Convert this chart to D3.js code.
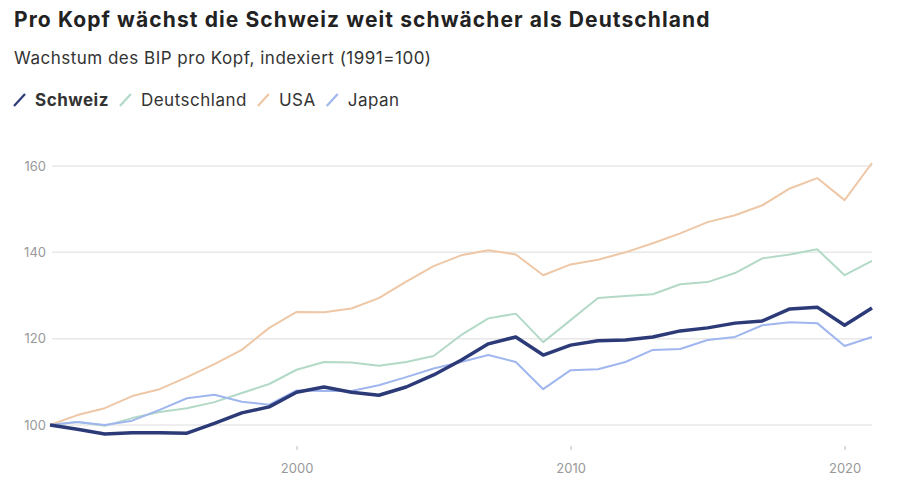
<!DOCTYPE html>
<html>
<head>
<meta charset="utf-8">
<script src="https://cdn.jsdelivr.net/npm/d3@7"></script>
<style>
  body { margin: 0; background: #fff; }
  svg { font-family: Inter, "Noto Sans", sans-serif; }
</style>
</head>
<body>
<div id="chart"></div>
<script>
const years = d3.range(1991, 2022);
const schweiz = [100, 99, 97.9, 98.2, 98.2, 98.1, 100.4, 102.8, 104.2, 107.6, 108.8, 107.6, 106.9, 108.8, 111.6, 115, 118.8, 120.4, 116.2, 118.5, 119.5, 119.7, 120.4, 121.8, 122.5, 123.6, 124.1, 126.9, 127.3, 123.1, 127.1];
const deutschland = [100, 100.7, 99.8, 101.6, 103, 103.9, 105.3, 107.4, 109.5, 112.8, 114.6, 114.5, 113.7, 114.6, 116, 120.8, 124.7, 125.8, 119.2, 124.3, 129.4, 129.9, 130.3, 132.6, 133.1, 135.2, 138.6, 139.5, 140.7, 134.7, 138];
const usa = [100, 102.3, 103.9, 106.7, 108.3, 111.1, 114.1, 117.4, 122.5, 126.2, 126.1, 127, 129.4, 133.2, 136.8, 139.3, 140.5, 139.5, 134.7, 137.2, 138.3, 140, 142.1, 144.4, 147, 148.6, 150.9, 154.8, 157.2, 152.1, 160.7];
const japan = [100, 100.7, 100, 101, 103.5, 106.2, 107, 105.4, 104.7, 108, 107.9, 107.9, 109.2, 111.1, 113.1, 114.6, 116.2, 114.6, 108.3, 112.7, 112.9, 114.6, 117.4, 117.6, 119.7, 120.4, 123.1, 123.8, 123.6, 118.3, 120.4];
const yTicks = [100, 120, 140, 160];
const xTicks = [2000, 2010, 2020];

const series = [
  { name: 'Deutschland', values: deutschland, color: '#b3d9c7', width: 2 },
  { name: 'USA', values: usa, color: '#eec7a6', width: 2 },
  { name: 'Japan', values: japan, color: '#a0b6ef', width: 2 },
  { name: 'Schweiz', values: schweiz, color: '#2c3b78', width: 3.5 }
];
const legendOrder = ['Schweiz', 'Deutschland', 'USA', 'Japan'];

const width = 900, height = 494;
const svg = d3.select('#chart').append('svg')
  .attr('width', width)
  .attr('height', height);

svg.append('text')
  .attr('x', 14).attr('y', 27)
  .attr('font-size', '21px').attr('font-weight', 'bold')
  .attr('letter-spacing', '1.1px')
  .attr('fill', '#222')
  .text('Pro Kopf wächst die Schweiz weit schwächer als Deutschland');

svg.append('text')
  .attr('x', 14).attr('y', 64)
  .attr('font-size', '17px')
  .attr('letter-spacing', '0.5px')
  .attr('fill', '#333')
  .text('Wachstum des BIP pro Kopf, indexiert (1991=100)');

// legend
const legend = svg.append('g').attr('transform', 'translate(14,106)');
let lx = 0;
legendOrder.forEach(name => {
  const s = series.find(d => d.name === name);
  legend.append('line')
    .attr('x1', lx).attr('y1', 0)
    .attr('x2', lx + 11).attr('y2', -12)
    .attr('stroke', s.color).attr('stroke-width', 2.2);
  const t = legend.append('text')
    .attr('x', lx + 21).attr('y', 0)
    .attr('font-size', '17px')
    .attr('letter-spacing', '0.5px')
    .attr('font-weight', name === 'Schweiz' ? 'bold' : 'normal')
    .attr('fill', '#333')
    .text(name);
  lx += 21 + t.node().getComputedTextLength() + 11;
});

const x = d3.scaleLinear().domain([1991, 2021]).range([50, 872]);
const y = d3.scaleLinear().domain([100, 160]).range([425, 166]);

// grid
const yAxis = d3.axisLeft(y).tickValues(yTicks).tickSize(0).tickPadding(6);
const gy = svg.append('g').attr('transform', 'translate(52,0)').call(yAxis);
gy.select('.domain').remove();
gy.selectAll('text').attr('font-size', '13px').attr('fill', '#999').attr('font-family', 'Inter, sans-serif');
svg.append('g').selectAll('line')
  .data(yTicks)
  .enter().append('line')
  .attr('x1', 52).attr('x2', 872)
  .attr('y1', d => y(d)).attr('y2', d => y(d))
  .attr('stroke', '#e8e8e8').attr('stroke-width', 1.5);

const xAxis = d3.axisBottom(x).tickValues(xTicks).tickFormat(d3.format('d')).tickSize(4).tickPadding(14);
const gx = svg.append('g').attr('transform', 'translate(0,446)').call(xAxis);
gx.select('.domain').remove();
gx.selectAll('line').attr('stroke', '#bbb');
gx.selectAll('text').attr('font-size', '13px').attr('fill', '#999').attr('font-family', 'Inter, sans-serif');

const line = d3.line()
  .x((d, i) => x(years[i]))
  .y(d => y(d));

svg.append('g').selectAll('path')
  .data(series)
  .enter().append('path')
  .attr('d', d => line(d.values))
  .attr('fill', 'none')
  .attr('stroke', d => d.color)
  .attr('stroke-width', d => d.width)
  .attr('stroke-linejoin', 'round');
</script>
</body>
</html>
